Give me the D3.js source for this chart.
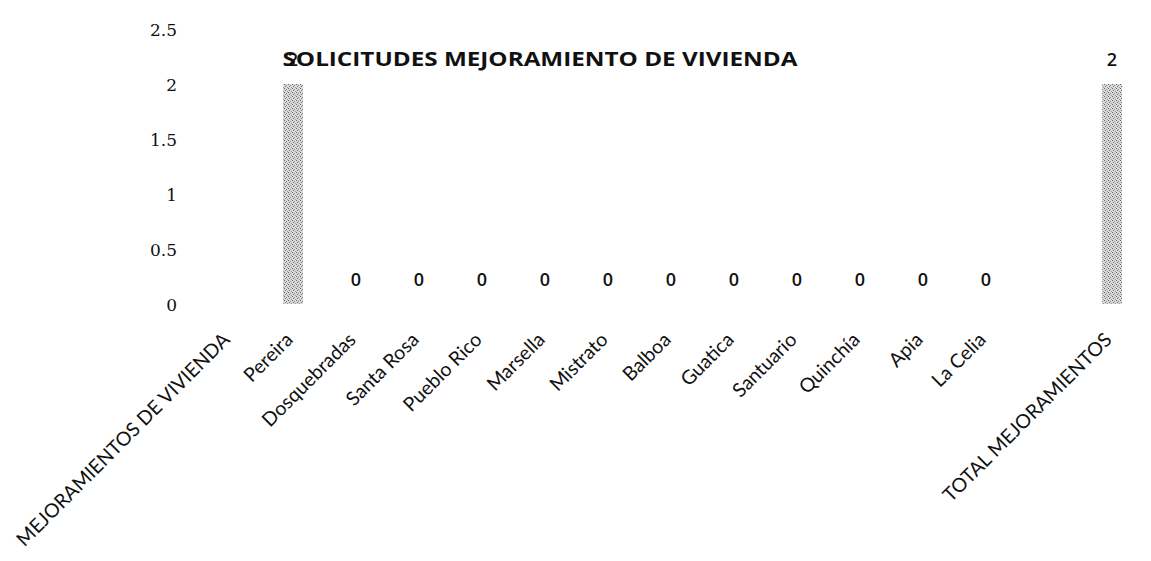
<!DOCTYPE html>
<html>
<head>
<meta charset="utf-8">
<script src="https://cdn.jsdelivr.net/npm/d3@7"></script>
<style>
  body { margin: 0; background: #fff; }
  svg { display: block; }
</style>
</head>
<body>
<div id="chart"></div>
<script>
/* CONSTANTS AND GLOBALS */
const width = 1151,
  height = 561;

// municipios, in the order they appear on the x axis ("" is the empty slot before the total)
const categories = [
  "MEJORAMIENTOS DE VIVIENDA", "Pereira", "Dosquebradas", "Santa Rosa",
  "Pueblo Rico", "Marsella", "Mistrato", "Balboa", "Guatica", "Santuario",
  "Quinchía", "Apia", "La Celia", "", "TOTAL MEJORAMIENTOS"
];
// solicitudes per category (null = no bar / no label)
const values = [null, 2, 0, 0, 0, 0, 0, 0, 0, 0, 0, 0, 0, null, 2];
const yTicks = [0, 0.5, 1, 1.5, 2, 2.5];
const title = "SOLICITUDES MEJORAMIENTO DE VIVIENDA";

const data = categories.map((c, i) => ({ key: c === "" ? "_blank" : c, label: c, value: values[i] }));

const svg = d3.select("#chart")
  .append("svg")
  .attr("width", width)
  .attr("height", height);

svg.append("rect").attr("width", width).attr("height", height).attr("fill", "#fff");

// speckled grey fill, like the scanned bars
const defs = svg.append("defs");
const pat = defs.append("pattern")
  .attr("id", "speckle")
  .attr("width", 4).attr("height", 4)
  .attr("patternUnits", "userSpaceOnUse");
pat.append("rect").attr("width", 4).attr("height", 4).attr("fill", "#dadada");
pat.append("rect").attr("x", 0).attr("y", 0).attr("width", 1).attr("height", 1).attr("fill", "#666");
pat.append("rect").attr("x", 2).attr("y", 1).attr("width", 1).attr("height", 1).attr("fill", "#8a8a8a");
pat.append("rect").attr("x", 1).attr("y", 2).attr("width", 1).attr("height", 1).attr("fill", "#777");
pat.append("rect").attr("x", 3).attr("y", 3).attr("width", 1).attr("height", 1).attr("fill", "#999");

// + SCALES
const xScale = d3.scaleBand()
  .domain(data.map(d => d.key))
  .range([198.5, 1143.5])
  .paddingInner(0.68)
  .paddingOuter(0.34);

const yScale = d3.scaleLinear()
  .domain([0, 2.5])
  .range([304, 29]);

// + Y AXIS (labels only)
const yAxis = d3.axisLeft(yScale)
  .tickValues(yTicks)
  .tickSize(0)
  .tickPadding(0)
  .tickFormat(d => d);

const yG = svg.append("g")
  .attr("transform", "translate(177,0)")
  .call(yAxis);
yG.select(".domain").remove();
yG.selectAll("text")
  .attr("font-family", "'DejaVu Serif', serif")
  .attr("font-size", 17)
  .attr("fill", "#111")
  .attr("dy", "0.4em");

// + X AXIS (rotated labels)
const xAxis = d3.axisBottom(xScale)
  .tickSize(0)
  .tickFormat(k => data.find(d => d.key === k).label);

const xG = svg.append("g")
  .call(xAxis);
xG.select(".domain").remove();
xG.selectAll(".tick text")
  .attr("font-family", "Lato, 'Open Sans', sans-serif")
  .attr("font-size", 19.5)
  .attr("fill", "#111")
  .attr("text-anchor", "end")
  .attr("y", 0)
  .attr("dy", 0)
  .attr("transform", "translate(1,341) rotate(-45)");

// + BARS
svg.selectAll("rect.bar")
  .data(data.filter(d => d.value !== null))
  .join("rect")
  .attr("class", "bar")
  .attr("x", d => xScale(d.key))
  .attr("width", xScale.bandwidth())
  .attr("y", d => yScale(d.value))
  .attr("height", d => yScale(0) - yScale(d.value))
  .attr("fill", "url(#speckle)");

// + TITLE
svg.append("text")
  .attr("x", 540)
  .attr("y", 66)
  .attr("text-anchor", "middle")
  .attr("font-family", "'Open Sans', sans-serif")
  .attr("font-weight", "bold")
  .attr("font-size", 20)
  .attr("textLength", 515)
  .attr("lengthAdjust", "spacingAndGlyphs")
  .attr("fill", "#111")
  .text(title);

// + VALUE LABELS
svg.selectAll("text.value")
  .data(data.filter(d => d.value !== null))
  .join("text")
  .attr("class", "value")
  .attr("x", d => xScale(d.key) + xScale.bandwidth() / 2)
  .attr("y", d => yScale(d.value) - 18)
  .attr("text-anchor", "middle")
  .attr("font-family", "'Open Sans', sans-serif")
  .attr("font-weight", 600)
  .attr("font-size", 18)
  .attr("fill", "#111")
  .text(d => d.value);
</script>
</body>
</html>
